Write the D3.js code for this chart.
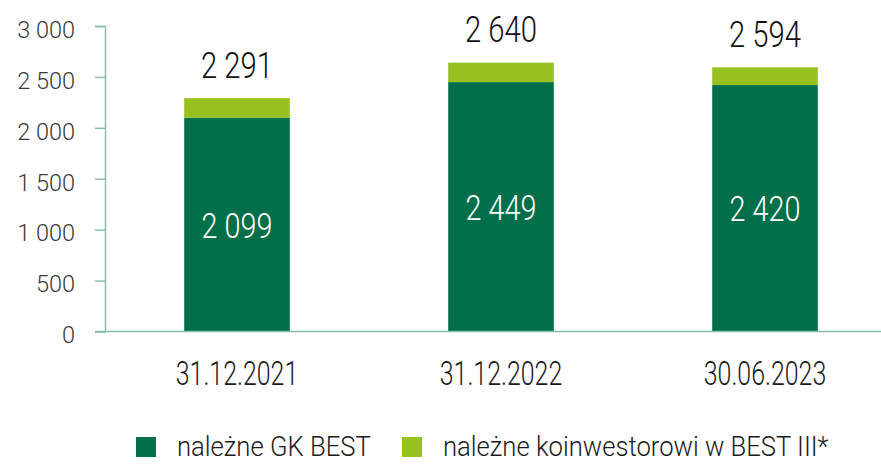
<!DOCTYPE html>
<html>
<head>
<meta charset="utf-8">
<script src="https://cdn.jsdelivr.net/npm/d3@7"></script>
<style>
  html, body { margin: 0; padding: 0; background: #fff; }
  svg { display: block; font-family: Roboto, "Noto Sans", sans-serif; }
</style>
</head>
<body>
<svg id="chart" width="881" height="464"></svg>
<script>
const categories = ["31.12.2021", "31.12.2022", "30.06.2023"];
const gkBest = [2099, 2449, 2420];
const coinvestor = [192, 191, 174];
const totals = [2291, 2640, 2594];
const yTicks = [0, 500, 1000, 1500, 2000, 2500, 3000];
const seriesNames = ["należne GK BEST", "należne koinwestorowi w BEST III*"];
const colors = ["#006f4a", "#97c11f"];

const fmt = v => d3.format(",")(v).replace(/,/g, " ");

const svg = d3.select("#chart");
const x = d3.scaleBand().domain(categories).range([105, 897]).paddingInner(0.6).paddingOuter(0.3);
const y = d3.scaleLinear().domain([0, 3000]).range([331.5, 26]);

const axisColor = "#8abfa8";

// Y axis
const yAxis = svg.append("g").attr("transform", "translate(105,0)")
  .call(d3.axisLeft(y).tickValues(yTicks).tickSize(10).tickPadding(20).tickFormat(fmt));
yAxis.select(".domain").attr("stroke", axisColor).attr("stroke-width", 1.5);
yAxis.selectAll(".tick line").attr("stroke", axisColor).attr("stroke-width", 1.5);
yAxis.selectAll(".tick text")
  .attr("font-family", "Roboto, sans-serif").attr("font-weight", 300)
  .attr("font-size", 23.5).attr("fill", "#3a3a3a").attr("dy", "0.48em");

// Bars
const data = categories.map((c, i) => ({ c, a: gkBest[i], b: coinvestor[i], t: totals[i] }));
const bw = x.bandwidth();
svg.append("g").selectAll("rect.a").data(data).join("rect")
  .attr("x", d => x(d.c)).attr("width", bw)
  .attr("y", d => y(d.a)).attr("height", d => y(0) - y(d.a))
  .attr("fill", colors[0]);
svg.append("g").selectAll("rect.b").data(data).join("rect")
  .attr("x", d => x(d.c)).attr("width", bw)
  .attr("y", d => y(d.a + d.b)).attr("height", d => y(d.a) - y(d.a + d.b))
  .attr("fill", colors[1]);

// X axis line
svg.append("line").attr("x1", 95).attr("x2", 881).attr("y1", y(0)).attr("y2", y(0))
  .attr("stroke", axisColor).attr("stroke-width", 1.5);

function condText(g, tx, ty, sx, txt, size, fill) {
  g.append("g").attr("transform", `translate(${tx},${ty}) scale(${sx},1)`)
    .append("text").attr("text-anchor", "middle")
    .attr("font-size", size).attr("font-weight", 300).attr("fill", fill).text(txt);
}

const labels = svg.append("g");
data.forEach(d => {
  const cx = x(d.c) + bw / 2;
  // totals above
  condText(labels, cx, y(d.t) - 20.5, 0.78, fmt(d.t), 37.5, "#111");
  // inner values
  const mid = (y(d.a) + y(0)) / 2;
  condText(labels, cx, mid + 13, 0.8, fmt(d.a), 36, "#ffffff");
  // category labels
  condText(labels, cx, 385, 0.76, d.c, 32.8, "#1a1a1a");
});

// Legend
const legend = svg.append("g");
const legX = [136, 402];
seriesNames.forEach((n, i) => {
  legend.append("rect").attr("x", legX[i]).attr("y", 437).attr("width", 20).attr("height", 20).attr("fill", colors[i]);
  legend.append("g").attr("transform", `translate(${legX[i] + 41},456) scale(0.9,1)`)
    .append("text").attr("font-size", 28.5).attr("font-weight", 300).attr("fill", "#1a1a1a").text(n);
});
</script>
</body>
</html>
